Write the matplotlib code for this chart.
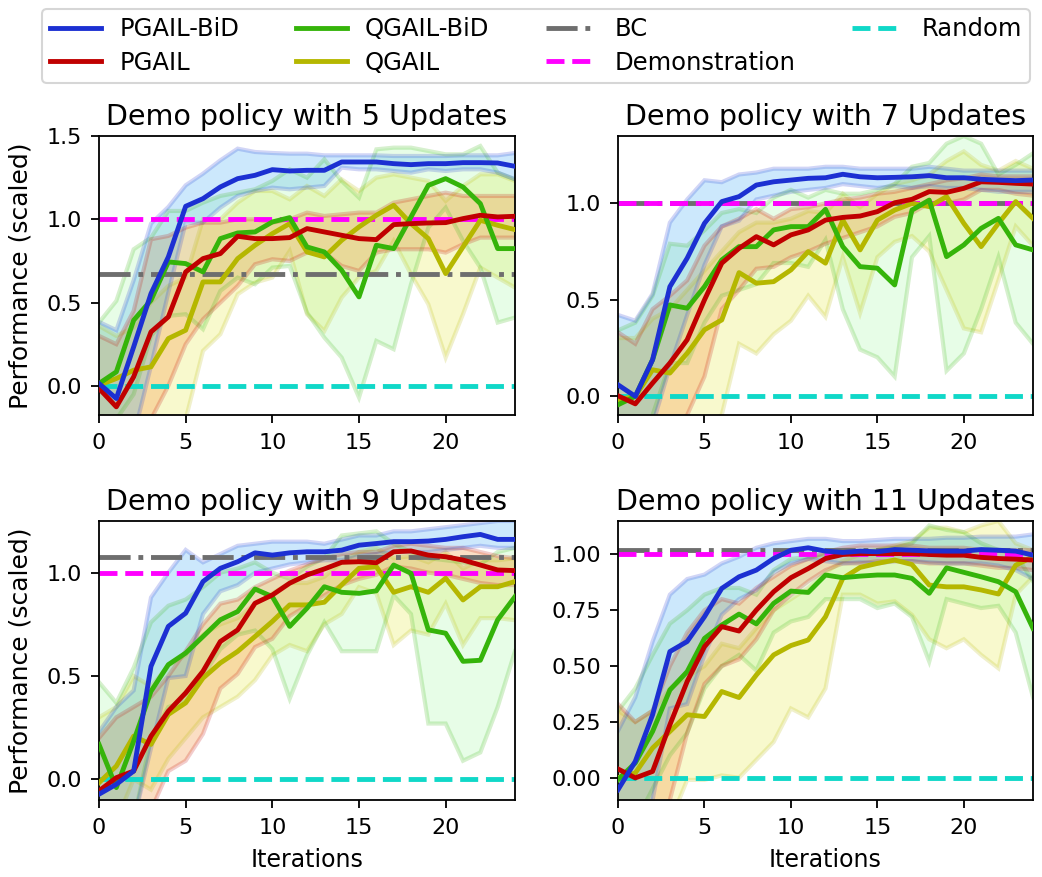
import numpy as np
import matplotlib
matplotlib.use("Agg")
import matplotlib.pyplot as plt

iterations = list(range(25))
titles = ["Demo policy with 5 Updates", "Demo policy with 7 Updates",
          "Demo policy with 9 Updates", "Demo policy with 11 Updates"]
method_names = ["PGAIL-BiD", "PGAIL", "QGAIL-BiD", "QGAIL"]

# ---------------- Panel: 5 updates ----------------
u5_pgail_bid = [0.014, -0.076, 0.234, 0.554, 0.774, 1.078, 1.124, 1.194, 1.244, 1.264, 1.298, 1.29, 1.294,
                1.294, 1.344, 1.344, 1.344, 1.334, 1.328, 1.334, 1.334, 1.34, 1.34, 1.338, 1.318]
u5_pgail_bid_hi = [0.384, 0.334, 0.634, 0.974, 1.074, 1.204, 1.274, 1.354, 1.424, 1.404, 1.398, 1.394, 1.394,
                   1.384, 1.384, 1.384, 1.384, 1.38, 1.38, 1.38, 1.38, 1.384, 1.384, 1.384, 1.398]
u5_pgail_bid_lo = [-0.4, -0.45, -0.3, 0.12, 0.56, 0.98, 0.98, 1.07, 1.14, 1.17, 1.19, 1.18, 1.19,
                   1.2, 1.31, 1.3, 1.3, 1.29, 1.28, 1.3, 1.29, 1.3, 1.3, 1.28, 1.24]
u5_pgail = [-0.016, -0.126, 0.054, 0.324, 0.414, 0.684, 0.764, 0.794, 0.898, 0.884, 0.884, 0.89, 0.944,
            0.924, 0.904, 0.884, 0.878, 0.968, 0.974, 0.978, 0.98, 1.004, 1.024, 1.014, 1.018]
u5_pgail_hi = [0.3, 0.25, 0.45, 0.88, 0.9, 0.95, 0.98, 0.98, 1.0, 1.0, 0.98, 1.0, 1.04,
               1.02, 1.03, 1.04, 1.04, 1.1, 1.12, 1.14, 1.16, 1.14, 1.14, 1.14, 1.14]
u5_pgail_lo = [-0.4, -0.5, -0.35, -0.2, 0.0, 0.25, 0.4, 0.5, 0.6, 0.73, 0.76, 0.75, 0.8,
               0.8, 0.72, 0.69, 0.8, 0.82, 0.82, 0.82, 0.8, 0.85, 0.89, 0.89, 0.89]
u5_qgail_bid = [0.014, 0.084, 0.394, 0.514, 0.744, 0.734, 0.684, 0.884, 0.918, 0.924, 0.984, 1.01, 0.834,
                0.804, 0.694, 0.534, 0.844, 0.824, 1.014, 1.204, 1.244, 1.194, 1.094, 0.824, 0.824]
u5_qgail_bid_hi = [0.38, 0.51, 0.82, 0.89, 1.05, 1.05, 1.1, 1.14, 1.16, 1.18, 1.23, 1.3, 1.25,
                   1.36, 1.23, 1.13, 1.42, 1.43, 1.43, 1.41, 1.39, 1.39, 1.44, 1.28, 1.24]
u5_qgail_bid_lo = [-0.3, -0.2, -0.05, 0.3, 0.42, 0.43, 0.34, 0.57, 0.65, 0.61, 0.71, 0.72, 0.44,
                   0.29, 0.17, -0.07, 0.27, 0.22, 0.61, 0.95, 1.07, 0.87, 0.71, 0.38, 0.41]
u5_qgail = [0.004, 0.044, 0.094, 0.114, 0.284, 0.334, 0.624, 0.624, 0.764, 0.844, 0.914, 0.974, 0.804,
            0.774, 0.874, 0.954, 1.024, 1.084, 0.974, 0.884, 0.674, 0.834, 0.994, 0.964, 0.938]
u5_qgail_hi = [0.36, 0.3, 0.35, 0.5, 0.6, 0.65, 1.0, 1.0, 1.1, 1.17, 1.17, 1.12, 1.2,
               1.14, 1.24, 1.17, 1.25, 1.27, 1.25, 1.23, 1.11, 1.2, 1.27, 1.27, 1.23]
u5_qgail_lo = [-0.4, -0.4, -0.4, -0.35, -0.3, -0.2, 0.21, 0.31, 0.55, 0.62, 0.65, 0.81, 0.43,
               0.33, 0.53, 0.65, 0.69, 0.87, 0.67, 0.49, 0.17, 0.43, 0.71, 0.65, 0.59]

# ---------------- Panel: 7 updates ----------------
u7_pgail_bid = [0.057, -0.003, 0.187, 0.567, 0.715, 0.896, 1.009, 1.035, 1.095, 1.112, 1.121, 1.13, 1.133,
                1.151, 1.138, 1.133, 1.135, 1.138, 1.144, 1.133, 1.133, 1.125, 1.121, 1.118, 1.121]
u7_pgail_bid_hi = [0.42, 0.39, 0.53, 0.9, 1.02, 1.12, 1.11, 1.15, 1.16, 1.18, 1.18, 1.18, 1.19,
                   1.19, 1.18, 1.18, 1.18, 1.18, 1.19, 1.18, 1.17, 1.17, 1.17, 1.17, 1.17]
u7_pgail_bid_lo = [-0.3, -0.3, -0.15, 0.15, 0.42, 0.68, 0.88, 0.91, 1.02, 1.04, 1.06, 1.07, 1.08,
                   1.1, 1.09, 1.08, 1.09, 1.08, 1.09, 1.08, 1.08, 1.07, 1.06, 1.06, 1.06]
u7_pgail = [0.0, -0.042, 0.066, 0.17, 0.291, 0.498, 0.689, 0.766, 0.827, 0.784, 0.836, 0.862, 0.913,
            0.927, 0.934, 0.957, 1.003, 1.021, 1.061, 1.057, 1.078, 1.112, 1.109, 1.104, 1.10]
u7_pgail_hi = [0.33, 0.27, 0.45, 0.52, 0.6, 0.78, 0.88, 0.92, 0.97, 0.92, 0.97, 0.98, 1.0,
               1.02, 1.03, 1.05, 1.06, 1.08, 1.1, 1.12, 1.13, 1.15, 1.14, 1.14, 1.14]
u7_pgail_lo = [-0.3, -0.35, -0.3, -0.2, -0.1, 0.1, 0.45, 0.55, 0.66, 0.67, 0.72, 0.75, 0.79,
               0.82, 0.85, 0.88, 0.93, 0.95, 1.0, 1.0, 1.02, 1.07, 1.07, 1.05, 1.04]
u7_qgail_bid = [-0.047, -0.003, 0.187, 0.472, 0.455, 0.567, 0.706, 0.775, 0.775, 0.862, 0.879, 0.879, 0.969,
                0.775, 0.671, 0.663, 0.576, 0.965, 1.017, 0.723, 0.784, 0.87, 0.922, 0.784, 0.758]
u7_qgail_bid_hi = [0.34, 0.38, 0.52, 0.79, 0.78, 0.86, 0.95, 0.97, 0.95, 1.03, 1.07, 1.03, 1.07,
                   1.05, 1.05, 1.07, 1.1, 1.19, 1.21, 1.31, 1.35, 1.31, 1.15, 1.2, 1.26]
u7_qgail_bid_lo = [-0.3, -0.3, -0.1, 0.17, 0.17, 0.38, 0.52, 0.55, 0.58, 0.69, 0.69, 0.67, 0.81,
                   0.45, 0.24, 0.2, 0.1, 0.72, 0.83, 0.13, 0.22, 0.45, 0.72, 0.38, 0.27]
u7_qgail = [-0.021, -0.003, 0.135, 0.118, 0.221, 0.343, 0.394, 0.64, 0.585, 0.593, 0.654, 0.749, 0.689,
            0.913, 0.758, 0.913, 0.965, 1.0, 0.983, 1.035, 0.896, 0.775, 0.896, 1.009, 0.922]
u7_qgail_hi = [0.3, 0.3, 0.4, 0.45, 0.55, 0.65, 0.75, 0.85, 0.9, 0.9, 0.92, 0.96, 0.95,
               1.05, 0.98, 1.05, 1.1, 1.12, 1.15, 1.22, 1.27, 1.2, 1.17, 1.22, 1.18]
u7_qgail_lo = [-0.4, -0.4, -0.35, -0.3, -0.25, -0.15, -0.1, 0.27, 0.22, 0.32, 0.39, 0.52, 0.41,
               0.72, 0.43, 0.72, 0.8, 0.83, 0.75, 0.55, 0.35, 0.33, 0.6, 0.88, 0.78]

# ---------------- Panel: 9 updates ----------------
u9_pgail_bid = [-0.072, -0.024, 0.04, 0.547, 0.740, 0.804, 0.957, 1.021, 1.053, 1.096, 1.085, 1.096, 1.101,
                1.101, 1.109, 1.133, 1.141, 1.15, 1.15, 1.153, 1.161, 1.174, 1.185, 1.161, 1.161]
u9_pgail_bid_hi = [0.23, 0.35, 0.43, 0.88, 1.0, 1.11, 1.05, 1.09, 1.13, 1.14, 1.15, 1.15, 1.15,
                   1.14, 1.16, 1.18, 1.18, 1.2, 1.2, 1.21, 1.22, 1.23, 1.24, 1.25, 1.25]
u9_pgail_bid_lo = [-0.3, -0.3, -0.2, 0.15, 0.49, 0.5, 0.8, 0.91, 0.94, 1.0, 1.02, 1.04, 1.05,
                   1.06, 1.06, 1.08, 1.09, 1.1, 1.1, 1.1, 1.11, 1.12, 1.13, 1.12, 1.12]
u9_pgail = [-0.056, 0.008, 0.04, 0.209, 0.33, 0.418, 0.523, 0.667, 0.723, 0.852, 0.892, 0.949, 0.989,
            1.018, 1.05, 1.053, 1.048, 1.101, 1.105, 1.085, 1.077, 1.061, 1.037, 1.013, 1.01]
u9_pgail_hi = [0.2, 0.3, 0.35, 0.4, 0.5, 0.62, 0.75, 0.85, 0.87, 0.93, 0.97, 1.01, 1.04,
               1.07, 1.09, 1.1, 1.1, 1.13, 1.14, 1.13, 1.12, 1.12, 1.1, 1.08, 1.07]
u9_pgail_lo = [-0.3, -0.3, -0.3, -0.15, 0.04, 0.09, 0.22, 0.44, 0.51, 0.64, 0.68, 0.79, 0.84,
               0.89, 0.94, 0.97, 0.99, 1.03, 1.02, 1.0, 0.99, 0.97, 0.95, 0.94, 0.94]
u9_qgail_bid = [0.169, -0.04, 0.185, 0.426, 0.555, 0.611, 0.691, 0.772, 0.812, 0.921, 0.884, 0.74, 0.828,
                0.932, 0.905, 0.9, 0.912, 1.037, 0.997, 0.723, 0.707, 0.571, 0.576, 0.772, 0.884]
u9_qgail_bid_hi = [0.47, 0.37, 0.54, 0.76, 0.84, 0.87, 0.93, 1.0, 1.02, 1.05, 1.0, 0.97, 1.03,
                   1.07, 1.18, 1.19, 1.2, 1.14, 1.1, 1.07, 1.06, 1.05, 1.04, 1.1, 1.12]
u9_qgail_bid_lo = [-0.2, -0.3, -0.2, 0.2, 0.35, 0.38, 0.5, 0.63, 0.7, 0.72, 0.63, 0.39, 0.6,
                   0.76, 0.62, 0.62, 0.62, 0.89, 0.8, 0.27, 0.27, 0.09, 0.13, 0.35, 0.62]
u9_qgail = [-0.016, 0.064, 0.209, 0.169, 0.314, 0.37, 0.49, 0.563, 0.619, 0.691, 0.764, 0.844, 0.844,
            0.857, 0.941, 1.021, 1.029, 0.905, 0.932, 0.905, 0.973, 0.868, 0.932, 0.932, 0.957]
u9_qgail_hi = [0.3, 0.35, 0.5, 0.45, 0.55, 0.6, 0.7, 0.75, 0.78, 0.85, 0.9, 0.95, 0.95,
               0.98, 1.05, 1.1, 1.12, 1.07, 1.08, 1.05, 1.1, 1.02, 1.06, 1.06, 1.07]
u9_qgail_lo = [-0.3, -0.2, 0.0, -0.05, 0.1, 0.2, 0.3, 0.35, 0.4, 0.48, 0.6, 0.65, 0.62,
               0.75, 0.8, 0.93, 0.9, 0.65, 0.72, 0.7, 0.85, 0.65, 0.78, 0.78, 0.77]

# ---------------- Panel: 11 updates ----------------
u11_pgail_bid = [-0.054, 0.073, 0.282, 0.565, 0.61, 0.721, 0.848, 0.9, 0.93, 0.982, 1.019, 1.03, 1.015,
                 1.009, 1.015, 1.012, 1.022, 1.019, 1.016, 1.015, 1.015, 1.022, 1.019, 1.015, 0.997]
u11_pgail_bid_hi = [0.21, 0.36, 0.61, 0.82, 0.89, 0.91, 0.96, 0.99, 1.03, 1.05, 1.06, 1.07, 1.07,
                    1.06, 1.06, 1.065, 1.07, 1.07, 1.07, 1.075, 1.075, 1.08, 1.08, 1.08, 1.09]
u11_pgail_bid_lo = [-0.3, -0.2, -0.1, 0.31, 0.33, 0.55, 0.73, 0.8, 0.84, 0.92, 0.96, 0.98, 0.97,
                    0.96, 0.965, 0.96, 0.97, 0.97, 0.965, 0.96, 0.96, 0.96, 0.95, 0.93, 0.89]
u11_pgail = [0.039, -0.001, 0.028, 0.237, 0.431, 0.587, 0.677, 0.657, 0.751, 0.833, 0.896, 0.937, 0.982,
             1.0, 1.004, 1.004, 1.004, 1.004, 1.0, 0.997, 0.997, 0.987, 0.982, 0.979, 0.975]
u11_pgail_hi = [0.33, 0.25, 0.3, 0.5, 0.65, 0.75, 0.8, 0.78, 0.85, 0.9, 0.95, 0.98, 1.01,
                1.03, 1.04, 1.04, 1.04, 1.04, 1.03, 1.03, 1.03, 1.02, 1.02, 1.02, 1.02]
u11_pgail_lo = [-0.3, -0.3, -0.3, -0.1, 0.2, 0.42, 0.5, 0.53, 0.62, 0.75, 0.82, 0.88, 0.93,
                0.96, 0.96, 0.97, 0.97, 0.97, 0.96, 0.96, 0.96, 0.95, 0.94, 0.94, 0.93]
u11_qgail_bid = [-0.009, 0.066, 0.207, 0.393, 0.475, 0.624, 0.684, 0.733, 0.689, 0.781, 0.836, 0.83, 0.908,
                 0.896, 0.903, 0.908, 0.908, 0.893, 0.826, 0.94, 0.92, 0.9, 0.878, 0.833, 0.669]
u11_qgail_bid_hi = [0.3, 0.4, 0.55, 0.69, 0.75, 0.82, 0.85, 0.85, 0.82, 0.93, 0.98, 0.99, 1.0,
                    1.0, 1.01, 1.02, 1.03, 1.05, 1.13, 1.11, 1.1, 1.05, 1.02, 1.0, 0.88]
u11_qgail_bid_lo = [-0.3, -0.2, -0.05, 0.1, 0.2, 0.4, 0.5, 0.55, 0.48, 0.65, 0.7, 0.72, 0.8,
                    0.8, 0.8, 0.76, 0.78, 0.72, 0.52, 0.8, 0.78, 0.76, 0.77, 0.65, 0.36]
u11_qgail = [0.0, 0.021, 0.133, 0.207, 0.282, 0.274, 0.386, 0.359, 0.46, 0.55, 0.592, 0.617, 0.721,
             0.893, 0.942, 0.96, 0.975, 0.955, 0.863, 0.855, 0.855, 0.841, 0.823, 0.952, 0.99]
u11_qgail_hi = [0.3, 0.25, 0.3, 0.4, 0.45, 0.5, 0.6, 0.58, 0.67, 0.75, 0.8, 0.85, 0.92,
                0.97, 1.0, 1.02, 1.04, 1.06, 1.12, 1.12, 1.1, 1.13, 1.15, 1.05, 1.02]
u11_qgail_lo = [-0.3, -0.3, -0.3, -0.2, -0.01, -0.01, 0.01, 0.0, 0.08, 0.16, 0.31, 0.27, 0.4,
                0.82, 0.82, 0.78, 0.79, 0.73, 0.62, 0.58, 0.62, 0.55, 0.49, 0.82, 0.9]

# Reference levels per panel
bc_levels = [0.674, 1.0, 1.074, 1.021]
demo_level = 1.0
random_level = 0.0
ylims = [(-0.175, 1.5), (-0.1, 1.35), (-0.1, 1.25), (-0.1, 1.15)]
yticks = [[0.0, 0.5, 1.0, 1.5], [0.0, 0.5, 1.0], [0.0, 0.5, 1.0], [0.0, 0.25, 0.5, 0.75, 1.0]]

panels = [
    [(u5_pgail_bid, u5_pgail_bid_lo, u5_pgail_bid_hi), (u5_pgail, u5_pgail_lo, u5_pgail_hi),
     (u5_qgail_bid, u5_qgail_bid_lo, u5_qgail_bid_hi), (u5_qgail, u5_qgail_lo, u5_qgail_hi)],
    [(u7_pgail_bid, u7_pgail_bid_lo, u7_pgail_bid_hi), (u7_pgail, u7_pgail_lo, u7_pgail_hi),
     (u7_qgail_bid, u7_qgail_bid_lo, u7_qgail_bid_hi), (u7_qgail, u7_qgail_lo, u7_qgail_hi)],
    [(u9_pgail_bid, u9_pgail_bid_lo, u9_pgail_bid_hi), (u9_pgail, u9_pgail_lo, u9_pgail_hi),
     (u9_qgail_bid, u9_qgail_bid_lo, u9_qgail_bid_hi), (u9_qgail, u9_qgail_lo, u9_qgail_hi)],
    [(u11_pgail_bid, u11_pgail_bid_lo, u11_pgail_bid_hi), (u11_pgail, u11_pgail_lo, u11_pgail_hi),
     (u11_qgail_bid, u11_qgail_bid_lo, u11_qgail_bid_hi), (u11_qgail, u11_qgail_lo, u11_qgail_hi)],
]

line_colors = ["#1c30d2", "#c00000", "#35b40a", "#b5b700"]
fill_colors = ["#3aa8f5", "#f59a4a", "#8af58a", "#e8ee5a"]
fill_alphas = [0.26, 0.32, 0.2, 0.3]
bc_color = "#6e6e6e"
demo_color = "#ff00ff"
random_color = "#10d8c8"

plt.rcParams['font.family'] = ['DejaVu Sans']
fig = plt.figure(figsize=(10.42, 8.77), dpi=100)

positions = [
    (99 / 1042, 1 - 415 / 877, 416 / 1042, 279 / 877),
    (618 / 1042, 1 - 415 / 877, 415 / 1042, 279 / 877),
    (99 / 1042, 1 - 800 / 877, 416 / 1042, 279 / 877),
    (618 / 1042, 1 - 800 / 877, 415 / 1042, 279 / 877),
]

x = np.array(iterations)
handles = {}
for k in range(4):
    ax = fig.add_axes(positions[k])
    # bands
    for m in [3, 2, 1, 0]:
        mean, lo, hi = panels[k][m]
        ax.fill_between(x, lo, hi, facecolor=fill_colors[m], alpha=fill_alphas[m], linewidth=0, zorder=1)
        ax.plot(x, lo, color=line_colors[m], alpha=0.2, lw=3, zorder=1.5, solid_joinstyle='miter')
        ax.plot(x, hi, color=line_colors[m], alpha=0.2, lw=3, zorder=1.5, solid_joinstyle='miter')
    # reference lines
    h_bc, = ax.plot([x[0], x[-1]], [bc_levels[k], bc_levels[k]], color=bc_color, lw=3.5, ls='-.', zorder=2)
    h_demo, = ax.plot([x[0], x[-1]], [demo_level, demo_level], color=demo_color, lw=3.5, ls='--', zorder=2.1)
    h_rand, = ax.plot([x[0], x[-1]], [random_level, random_level], color=random_color, lw=3.5, ls='--', zorder=2.2)
    # mean lines
    for m in [3, 2, 1, 0]:
        mean, lo, hi = panels[k][m]
        h, = ax.plot(x, mean, color=line_colors[m], lw=3.5, zorder=3 + (3 - m) * 0.1)
        handles[method_names[m]] = h
    handles["BC"] = h_bc
    handles["Demonstration"] = h_demo
    handles["Random"] = h_rand

    ax.set_xlim(0, 24)
    ax.set_ylim(*ylims[k])
    ax.set_xticks([0, 5, 10, 15, 20])
    ax.set_yticks(yticks[k])
    if k == 3:
        ax.set_yticklabels(["0.00", "0.25", "0.50", "0.75", "1.00"])
    else:
        ax.set_yticklabels(["%.1f" % v for v in yticks[k]])
    ax.tick_params(labelsize=16, length=6, width=1.3, direction='out')
    ax.tick_params(axis='x', pad=7)
    ax.tick_params(axis='y', pad=6)
    for sp in ax.spines.values():
        sp.set_linewidth(1.3)
    ax.set_title(titles[k], fontsize=20.5, pad=8)
    if k in (0, 2):
        ax.set_ylabel("Performance (scaled)", fontsize=18, labelpad=10)
    if k in (2, 3):
        ax.set_xlabel("Iterations", fontsize=17, labelpad=7)

order = ["PGAIL-BiD", "PGAIL", "QGAIL-BiD", "QGAIL", "BC", "Demonstration", "Random"]
leg = fig.legend([handles[n] for n in order], order, ncol=4, loc='lower left',
                 bbox_to_anchor=(42 / 1042, 1 - 83 / 877, 988 / 1042, 78 / 877), mode='expand',
                 fontsize=17.5, frameon=True, borderaxespad=0, handlelength=2.1, handletextpad=0.75,
                 labelspacing=0.4, borderpad=0.33)
leg.get_frame().set_edgecolor('#cccccc')
leg.get_frame().set_linewidth(1.5)

fig.savefig("out.png", dpi=100)
